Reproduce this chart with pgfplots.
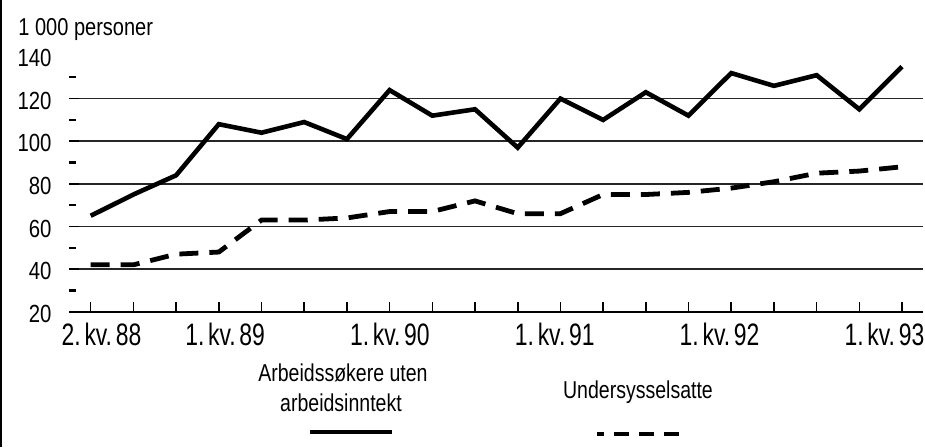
\documentclass[border=0pt]{standalone}
\usepackage{fontspec}
\setmainfont{Liberation Sans}
\newfontfamily\condA[FakeStretch=0.82]{Liberation Sans}
\newfontfamily\condL[FakeStretch=0.8]{Liberation Sans}
\newfontfamily\condB[FakeStretch=0.74]{Liberation Sans}
\usepackage{pgfplots}
\usepackage{pgfplotstable}
\pgfplotsset{compat=1.18}

\pgfplotstableread{
x a b
0 65 42
1 75 42
2 84 47
3 108 48
4 104 63
5 109 63
6 101 64
7 124 67
8 112 67
9 115 72
10 97 66
11 120 66
12 110 75
13 123 75
14 112 76
15 132 78
16 126 81
17 131 85
18 115 86
19 135 88
}\datatable

\newcommand{\ks}{\hspace{0.12em}}

\begin{document}
\begin{tikzpicture}
\useasboundingbox (0,0) rectangle (462.5pt,223.5pt);
\draw[line width=1pt] (0.5pt,0) -- (0.5pt,223.5pt);
\begin{axis}[
  at={(34.675pt,67.65pt)}, anchor=south west, scale only axis,
  width=427pt, height=127.85pt,
  xmin=-0.5, xmax=19.5, ymin=20, ymax=140,
  axis lines=left, axis line style={-},
  y axis line style={draw=none},
  x axis line style={line width=1pt},
  tick align=inside,
  xtick={0,...,19}, xticklabels={},
  major tick length=5pt, minor tick length=3.5pt,
  every tick/.style={black, line width=0.8pt},
  every minor tick/.style={black, line width=1.1pt},
  ytick={40,60,...,120}, minor ytick={30,50,...,130},
  ymajorgrids, major grid style={black!85, line width=0.8pt},
  extra y ticks={20,140},
  extra x ticks={0.253,3.148,7.007,10.868,14.728,18.588},
  extra x tick labels={{2.\ks kv.\ks 88},{1.\ks kv.\ks 89},{1.\ks kv.\ks 90},{1.\ks kv.\ks 91},{1.\ks kv.\ks 92},{1.\ks kv.\ks 93}},
  extra tick style={major tick length=0pt, grid=none},
  /pgf/number format/assume math mode=true,
  yticklabel style={font=\condA\fontsize{12.4}{12.4}\selectfont, anchor=east, inner sep=0pt, xshift=-8.7pt, yshift=-1pt},
  xticklabel style={font=\condB\fontsize{15.5}{15.5}\selectfont, anchor=north, inner sep=0pt, yshift=-5.3pt},
  clip=false,
]
\addplot[black, line width=2.3pt, line join=miter] table[x=x, y=a] {\datatable};
\addplot[black, line width=2.4pt, dash pattern=on 9.5pt off 5.5pt] table[x=x, y=b] {\datatable};
\end{axis}
\node[anchor=base west, inner sep=0pt, font=\condA\fontsize{12.2}{12}\selectfont] at (9pt,206pt) {1 000 personer};
\node[anchor=base, inner sep=0pt, font=\condL\fontsize{12.2}{12}\selectfont] at (171.5pt,32.65pt) {Arbeidssøkere uten};
\node[anchor=base, inner sep=0pt, font=\condL\fontsize{12.2}{12}\selectfont] at (170.5pt,18pt) {arbeidsinntekt};
\node[anchor=base, inner sep=0pt, font=\condL\fontsize{12.2}{12}\selectfont] at (319pt,24.5pt) {Undersysselsatte};
\draw[line width=2pt] (155pt,7.5pt) -- (196pt,7.5pt);
\draw[line width=2pt, dash pattern=on 7.5pt off 5pt, dash phase=4pt] (298.5pt,6.5pt) -- (340pt,6.5pt);
\end{tikzpicture}
\end{document}
